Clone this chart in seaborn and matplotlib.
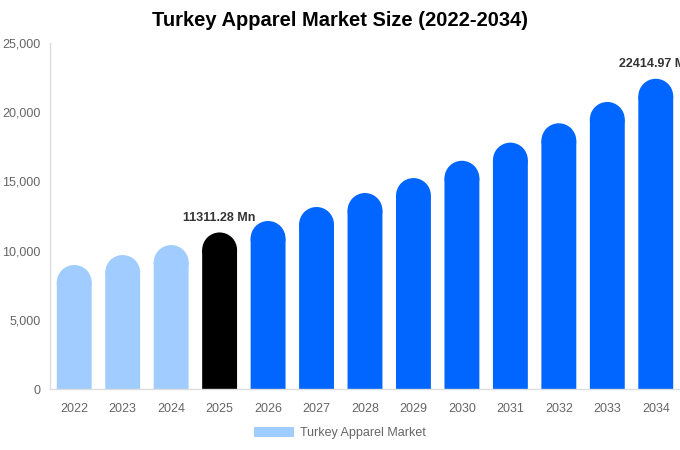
import matplotlib
matplotlib.use("Agg")
import matplotlib.pyplot as plt
import seaborn as sns
import pandas as pd
from matplotlib.patches import Ellipse, Patch
from matplotlib.ticker import FuncFormatter

# --- Datos ---
years = ["2022", "2023", "2024", "2025", "2026", "2027", "2028",
         "2029", "2030", "2031", "2032", "2033", "2034"]
values = [8960, 9680, 10400, 11311.28, 12140, 13150, 14160,
          15240, 16490, 17800, 19200, 20740, 22414.97]
bar_colors = ["#a0ccff"] * 3 + ["#000000"] + ["#0066ff"] * 9
labeled = {"2025": "11311.28 Mn", "2034": "22414.97 Mn"}

df = pd.DataFrame({"year": years, "value": values})

sns.set_theme(style="white")
plt.rcParams["font.family"] = ["Liberation Sans", "DejaVu Sans"]

fig = plt.figure(figsize=(6.8, 4.5), dpi=100)
ax = fig.add_axes([50 / 680, 61 / 450, 630 / 680, 346 / 450])

sns.barplot(data=df, x="year", y="value", hue="year", palette=bar_colors,
            width=0.72, legend=False, saturation=1, linewidth=0, ax=ax)

ax.set_xlim(-0.5, len(years) - 0.5)
ax.set_ylim(0, 25000)

# --- Barras con tope redondeado ---
fig.canvas.draw()
px_per_y = (ax.transData.transform((0, 1000))[1] - ax.transData.transform((0, 0))[1]) / 1000
px_per_x = ax.transData.transform((1, 0))[0] - ax.transData.transform((0, 0))[0]
for p in list(ax.patches):
    w = p.get_width()
    h = p.get_height()
    r = (w * px_per_x / 2) / px_per_y
    p.set_height(h - r)
    p.set_snap(False)
    ax.add_patch(Ellipse((p.get_x() + w / 2, h - r), w, 2 * r,
                         facecolor=p.get_facecolor(), edgecolor="none",
                         linewidth=0))

# --- Etiquetas de valor ---
for i, y in enumerate(years):
    if y in labeled:
        ax.annotate(labeled[y], (i, values[i]), xytext=(0, 6),
                    textcoords="offset points", ha="center", va="bottom",
                    fontsize=9, fontweight="bold", color="#333333",
                    annotation_clip=False)

ax.yaxis.set_major_formatter(FuncFormatter(lambda v, _: f"{int(v):,}"))
ax.set_yticks(range(0, 25001, 5000))
ax.tick_params(axis="both", length=0, labelsize=9, colors="#666666")
ax.tick_params(axis="x", pad=10)
ax.tick_params(axis="y", pad=7)
ax.set_xlabel("")
ax.set_ylabel("")
for s in ["top", "right"]:
    ax.spines[s].set_visible(False)
for s in ["left", "bottom"]:
    ax.spines[s].set_color("#dddddd")
    ax.spines[s].set_linewidth(1)

fig.suptitle("Turkey Apparel Market Size (2022-2034)", x=0.5, y=0.975,
             fontsize=14.5, fontweight="bold", color="#000000")

leg = fig.legend(handles=[Patch(facecolor="#a0ccff", edgecolor="none",
                                label="Turkey Apparel Market")],
                 loc="center", bbox_to_anchor=(0.5, 0.038), frameon=False,
                 fontsize=9, handlelength=3.2, handleheight=0.95,
                 handletextpad=0.5)
for t in leg.get_texts():
    t.set_color("#666666")

fig.savefig("out.png", dpi=100)
